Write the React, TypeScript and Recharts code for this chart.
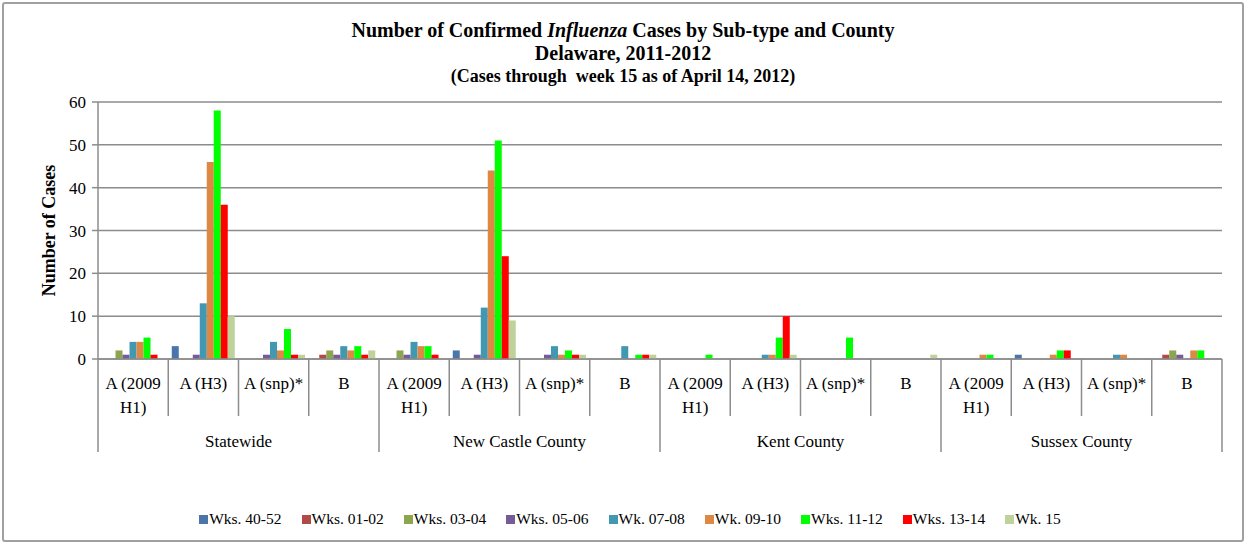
import { BarChart, Bar, XAxis, YAxis, CartesianGrid, Legend } from "recharts";

const groups = ["Statewide", "New Castle County", "Kent County", "Sussex County"];
const subtypes = ["A (2009 H1)", "A (H3)", "A (snp)*", "B"];

const seriesNames = [
  "Wks. 40-52",
  "Wks. 01-02",
  "Wks. 03-04",
  "Wks. 05-06",
  "Wk. 07-08",
  "Wk. 09-10",
  "Wks. 11-12",
  "Wks. 13-14",
  "Wk. 15",
];
const seriesColors = [
  "#4a74aa",
  "#b04a46",
  "#8ca64e",
  "#755b98",
  "#4398b1",
  "#dd8843",
  "#00ff00",
  "#ff0000",
  "#bfd29b",
];

// values per category, in order: Statewide x4, New Castle x4, Kent x4, Sussex x4
const wks4052 = [0, 3, 0, 0, 0, 2, 0, 0, 0, 0, 0, 0, 0, 1, 0, 0];
const wks0102 = [0, 0, 0, 1, 0, 0, 0, 0, 0, 0, 0, 0, 0, 0, 0, 1];
const wks0304 = [2, 0, 0, 2, 2, 0, 0, 0, 0, 0, 0, 0, 0, 0, 0, 2];
const wks0506 = [1, 1, 1, 1, 1, 1, 1, 0, 0, 0, 0, 0, 0, 0, 0, 1];
const wk0708 = [4, 13, 4, 3, 4, 12, 3, 3, 0, 1, 0, 0, 0, 0, 1, 0];
const wk0910 = [4, 46, 2, 2, 3, 44, 1, 0, 0, 1, 0, 0, 1, 1, 1, 2];
const wks1112 = [5, 58, 7, 3, 3, 51, 2, 1, 1, 5, 5, 0, 1, 2, 0, 2];
const wks1314 = [1, 36, 1, 1, 1, 24, 1, 1, 0, 10, 0, 0, 0, 2, 0, 0];
const wk15 = [0, 10, 1, 2, 0, 9, 1, 1, 0, 1, 0, 1, 0, 0, 0, 0];

const seriesValues = [wks4052, wks0102, wks0304, wks0506, wk0708, wk0910, wks1112, wks1314, wk15];
const yTicks = [0, 10, 20, 30, 40, 50, 60];

const W = 1246;
const H = 544;
const PLOT_LEFT = 98;
const PLOT_RIGHT = 1222;
const PLOT_TOP = 102;
const PLOT_BOTTOM = 359;
const X_AXIS_H = 100;
const NCAT = groups.length * subtypes.length;
const BAND = (PLOT_RIGHT - PLOT_LEFT) / NCAT;

const FONT = "'Liberation Serif', 'Times New Roman', serif";
const AXIS_GREY = "#8c8c8c";

const data = groups.flatMap((g, gi) =>
  subtypes.map((s, si) => {
    const i = gi * subtypes.length + si;
    const row: Record<string, string | number> = { cat: `${gi}-${si}` };
    seriesNames.forEach((name, k) => {
      row[name] = seriesValues[k][i];
    });
    return row;
  })
);

function wrapLabel(s: string): string[] {
  if (s.length <= 8) return [s];
  const cut = s.lastIndexOf(" ");
  return [s.slice(0, cut), s.slice(cut + 1)];
}

const textStyle = { fontFamily: FONT, fontSize: 17, fill: "#000" };

function CategoryTick(props: any) {
  const { x, y, payload } = props;
  const [gi, si] = String(payload.value).split("-").map(Number);
  const left = x - BAND / 2;
  const lines = wrapLabel(subtypes[si]);
  const isLast = gi === groups.length - 1 && si === subtypes.length - 1;
  return (
    <g>
      <line x1={left} x2={left} y1={y} y2={y + (si === 0 ? 93 : 57)} stroke={AXIS_GREY} strokeWidth={1.5} />
      {isLast && (
        <line x1={x + BAND / 2} x2={x + BAND / 2} y1={y} y2={y + 93} stroke={AXIS_GREY} strokeWidth={1.5} />
      )}
      {lines.map((ln, k) => (
        <text key={k} x={x} y={y + 30 + k * 24} textAnchor="middle" style={textStyle}>
          {ln}
        </text>
      ))}
      {si === 1 && (
        <text x={x + BAND / 2} y={y + 88} textAnchor="middle" style={textStyle}>
          {groups[gi]}
        </text>
      )}
    </g>
  );
}

function YTick(props: any) {
  const { x, y, payload } = props;
  return (
    <text x={x} y={y + 6} textAnchor="end" style={textStyle}>
      {payload.value}
    </text>
  );
}

function renderLegend() {
  return (
    <div
      style={{
        display: "flex",
        justifyContent: "center",
        gap: 20,
        paddingLeft: 14,
        fontFamily: FONT,
        fontSize: 15.5,
        color: "#000",
      }}
    >
      {seriesNames.map((name, k) => (
        <div key={name} style={{ display: "flex", alignItems: "center" }}>
          <span
            style={{ width: 9, height: 9, background: seriesColors[k], display: "inline-block", marginRight: 1 }}
          />
          <span>{name}</span>
        </div>
      ))}
    </div>
  );
}

export default function App() {
  return (
    <div style={{ position: "absolute", left: 0, top: 0, width: W, height: H, background: "#fff", fontFamily: FONT }}>
      <div
        style={{
          position: "absolute",
          left: 2,
          top: 2,
          width: W - 8,
          height: H - 8,
          border: "2px solid #a0a0a0",
          borderRadius: 3,
        }}
      />
      <div style={{ position: "absolute", left: 0, top: 19, width: W, textAlign: "center", fontWeight: "bold", color: "#000" }}>
        <div style={{ fontSize: 20, lineHeight: "23px" }}>
          Number of Confirmed <i>Influenza</i> Cases by Sub-type and County
        </div>
        <div style={{ fontSize: 20, lineHeight: "23px" }}>Delaware, 2011-2012</div>
        <div style={{ fontSize: 18, lineHeight: "22px" }}>(Cases through&nbsp; week 15 as of April 14, 2012)</div>
      </div>
      <div style={{ position: "absolute", left: 0, top: 0, fontFamily: FONT }}>
        <BarChart
          width={W}
          height={H}
          data={data}
          margin={{ top: PLOT_TOP, right: W - PLOT_RIGHT, bottom: H - PLOT_BOTTOM - X_AXIS_H, left: 0 }}
          barCategoryGap="5%"
          barGap={0}
        >
          <CartesianGrid vertical={false} stroke={AXIS_GREY} strokeWidth={1.5} />
          <XAxis
            dataKey="cat"
            type="category"
            interval={0}
            height={X_AXIS_H}
            tickLine={false}
            tickSize={0}
            tickMargin={0}
            axisLine={{ stroke: AXIS_GREY, strokeWidth: 1.5 }}
            tick={(p: any) => <CategoryTick {...p} />}
          />
          <YAxis
            width={PLOT_LEFT}
            domain={[0, 60]}
            ticks={yTicks}
            interval={0}
            tickSize={6}
            tickMargin={6}
            tickLine={{ stroke: AXIS_GREY, strokeWidth: 1.5 }}
            axisLine={{ stroke: AXIS_GREY, strokeWidth: 1.5 }}
            tick={(p: any) => <YTick {...p} />}
            label={{
              value: "Number of Cases",
              angle: -90,
              position: "center",
              style: { fontFamily: FONT, fontSize: 18, fontWeight: "bold", fill: "#000" },
            }}
          />
          <Legend
            layout="horizontal"
            verticalAlign="middle"
            align="center"
            wrapperStyle={{ top: 510, left: 0, width: W }}
            content={renderLegend}
          />
          {seriesNames.map((name, k) => (
            <Bar key={name} dataKey={name} fill={seriesColors[k]} isAnimationActive={false} />
          ))}
        </BarChart>
      </div>
    </div>
  );
}
